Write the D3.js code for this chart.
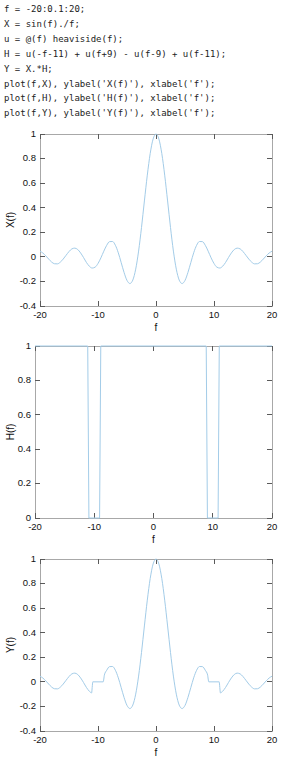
<!DOCTYPE html>
<html>
<head>
<meta charset="utf-8">
<script src="https://d3js.org/d3.v7.min.js"></script>
<style>
  body { margin: 0; background: #fff; }
  .code { font-family: "DejaVu Sans Mono", monospace; font-size: 9px; fill: #222; }
  .tick-label { font-family: "Liberation Sans", Arial, sans-serif; font-size: 9.5px; fill: #111; }
  .axis-label { font-family: "Liberation Sans", Arial, sans-serif; font-size: 10px; fill: #111; }
</style>
</head>
<body>
<svg width="305" height="764"></svg>
<script>
// MATLAB snippet shown above the plots
var codeLines = [
  "f = -20:0.1:20;",
  "X = sin(f)./f;",
  "u = @(f) heaviside(f);",
  "H = u(-f-11) + u(f+9) - u(f-9) + u(f-11);",
  "Y = X.*H;",
  "plot(f,X), ylabel('X(f)'), xlabel('f');",
  "plot(f,H), ylabel('H(f)'), xlabel('f');",
  "plot(f,Y), ylabel('Y(f)'), xlabel('f');"
];

// X(f), read at every 0.5 of f
var xF = [-20,-19.5,-19,-18.5,-18,-17.5,-17,-16.5,-16,-15.5,-15,-14.5,-14,-13.5,-13,-12.5,-12,-11.5,-11,-10.5,
  -10,-9.5,-9,-8.5,-8,-7.5,-7,-6.5,-6,-5.5,-5,-4.5,-4,-3.5,-3,-2.5,-2,-1.5,-1,-0.5,
  0,0.5,1,1.5,2,2.5,3,3.5,4,4.5,5,5.5,6,6.5,7,7.5,8,8.5,9,9.5,
  10,10.5,11,11.5,12,12.5,13,13.5,14,14.5,15,15.5,16,16.5,17,17.5,18,18.5,19,19.5,20];
var xVals = [0.046,0.031,0.008,-0.018,-0.042,-0.056,-0.057,-0.043,-0.018,0.013,0.043,0.065,0.071,0.060,0.032,-0.005,-0.045,-0.076,-0.091,-0.084,
  -0.054,-0.008,0.046,0.094,0.124,0.125,0.094,0.033,-0.047,-0.128,-0.192,-0.217,-0.189,-0.100,0.047,0.239,0.455,0.665,0.841,0.959,
  1.000,0.959,0.841,0.665,0.455,0.239,0.047,-0.100,-0.189,-0.217,-0.192,-0.128,-0.047,0.033,0.094,0.125,0.124,0.094,0.046,-0.008,
  -0.054,-0.084,-0.091,-0.076,-0.045,-0.005,0.032,0.060,0.071,0.065,0.043,0.013,-0.018,-0.043,-0.057,-0.056,-0.042,-0.018,0.008,0.031,0.046];

// H(f), corner points of the band-stop mask
var hF = [-20,-11.1,-11,-10.9,-9.1,-9,-8.9,8.9,9,9.1,10.9,11,11.1,20];
var hVals = [1,1,0.5,0,0,0.5,1,1,0.5,0,0,0.5,1,1];

// Y(f) = X(f) with the two bands removed
var yF = [-20,-19.5,-19,-18.5,-18,-17.5,-17,-16.5,-16,-15.5,-15,-14.5,-14,-13.5,-13,-12.5,-12,-11.5,-11.1,-11,-10.9,
  -9.1,-9,-8.9,-8.5,-8,-7.5,-7,-6.5,-6,-5.5,-5,-4.5,-4,-3.5,-3,-2.5,-2,-1.5,-1,-0.5,
  0,0.5,1,1.5,2,2.5,3,3.5,4,4.5,5,5.5,6,6.5,7,7.5,8,8.5,8.9,9,9.1,
  10.9,11,11.1,11.5,12,12.5,13,13.5,14,14.5,15,15.5,16,16.5,17,17.5,18,18.5,19,19.5,20];
var yVals = [0.046,0.031,0.008,-0.018,-0.042,-0.056,-0.057,-0.043,-0.018,0.013,0.043,0.065,0.071,0.060,0.032,-0.005,-0.045,-0.076,-0.090,-0.045,0,
  0,0.023,0.056,0.094,0.124,0.125,0.094,0.033,-0.047,-0.128,-0.192,-0.217,-0.189,-0.100,0.047,0.239,0.455,0.665,0.841,0.959,
  1.000,0.959,0.841,0.665,0.455,0.239,0.047,-0.100,-0.189,-0.217,-0.192,-0.128,-0.047,0.033,0.094,0.125,0.124,0.094,0.056,0.023,0,
  0,-0.045,-0.090,-0.076,-0.045,-0.005,0.032,0.060,0.071,0.065,0.043,0.013,-0.018,-0.043,-0.057,-0.056,-0.042,-0.018,0.008,0.031,0.046];

var fTicks = [-20,-10,0,10,20];
var sincTicks = [-0.4,-0.2,0,0.2,0.4,0.6,0.8,1];
var maskTicks = [0,0.2,0.4,0.6,0.8,1];

var LINE_COLOR = "#a3cce8";
var BOX_COLOR = "#a8a8a8";
var TICK_COLOR = "#5a5a5a";
var TICK_LEN = 5;

var svg = d3.select("svg");

// code listing
svg.append("g").selectAll("text")
  .data(codeLines)
  .enter().append("text")
  .attr("class", "code")
  .attr("x", 4)
  .attr("y", function(d, i) { return 12 + i * 14.9; })
  .attr("xml:space", "preserve")
  .text(function(d) { return d; });

function fmt(v) {
  return String(+v.toFixed(1));
}

function drawPanel(box, fs, vals, yDomain, yTicks, yLabel, curve) {
  var x = d3.scaleLinear().domain([-20, 20]).range([box.left, box.right]);
  var y = d3.scaleLinear().domain(yDomain).range([box.bottom, box.top]);
  var g = svg.append("g");

  // frame
  g.append("rect")
    .attr("x", box.left).attr("y", box.top)
    .attr("width", box.right - box.left).attr("height", box.bottom - box.top)
    .attr("fill", "none").attr("stroke", BOX_COLOR).attr("stroke-width", 1)
    .attr("shape-rendering", "crispEdges");

  // inward ticks, all four sides
  var tk = g.append("g").attr("stroke", TICK_COLOR).attr("stroke-width", 1)
    .attr("shape-rendering", "crispEdges");
  fTicks.forEach(function(t) {
    tk.append("line").attr("x1", x(t)).attr("x2", x(t))
      .attr("y1", box.bottom).attr("y2", box.bottom - TICK_LEN);
    tk.append("line").attr("x1", x(t)).attr("x2", x(t))
      .attr("y1", box.top).attr("y2", box.top + TICK_LEN);
  });
  yTicks.forEach(function(t) {
    tk.append("line").attr("x1", box.left).attr("x2", box.left + TICK_LEN)
      .attr("y1", y(t)).attr("y2", y(t));
    tk.append("line").attr("x1", box.right).attr("x2", box.right - TICK_LEN)
      .attr("y1", y(t)).attr("y2", y(t));
  });

  // tick labels
  g.selectAll(".xt").data(fTicks).enter().append("text")
    .attr("class", "tick-label")
    .attr("x", function(d) { return x(d); })
    .attr("y", box.bottom + 12)
    .attr("text-anchor", "middle")
    .text(function(d) { return d; });

  g.selectAll(".yt").data(yTicks).enter().append("text")
    .attr("class", "tick-label")
    .attr("x", box.left - 4)
    .attr("y", function(d) { return y(d); })
    .attr("dy", "0.3em")
    .attr("text-anchor", "end")
    .text(function(d) { return fmt(d); });

  // axis titles
  g.append("text").attr("class", "axis-label")
    .attr("x", (box.left + box.right) / 2)
    .attr("y", box.bottom + 25)
    .attr("text-anchor", "middle")
    .text("f");

  g.append("text").attr("class", "axis-label")
    .attr("transform", "translate(10," + ((box.top + box.bottom) / 2) + ") rotate(-90)")
    .attr("dy", "0.35em")
    .attr("text-anchor", "middle")
    .text(yLabel);

  // data line
  var line = d3.line()
    .x(function(d, i) { return x(fs[i]); })
    .y(function(d) { return y(d); })
    .curve(curve);

  g.append("path")
    .datum(vals)
    .attr("d", line)
    .attr("fill", "none")
    .attr("stroke", LINE_COLOR)
    .attr("stroke-width", 1);
}

drawPanel({left: 40, top: 134, right: 272, bottom: 306}, xF, xVals, [-0.4, 1], sincTicks, "X(f)", d3.curveMonotoneX);
drawPanel({left: 35, top: 346, right: 272, bottom: 518}, hF, hVals, [0, 1], maskTicks, "H(f)", d3.curveLinear);
drawPanel({left: 40, top: 559, right: 272, bottom: 731}, yF, yVals, [-0.4, 1], sincTicks, "Y(f)", d3.curveMonotoneX);
</script>
</body>
</html>
